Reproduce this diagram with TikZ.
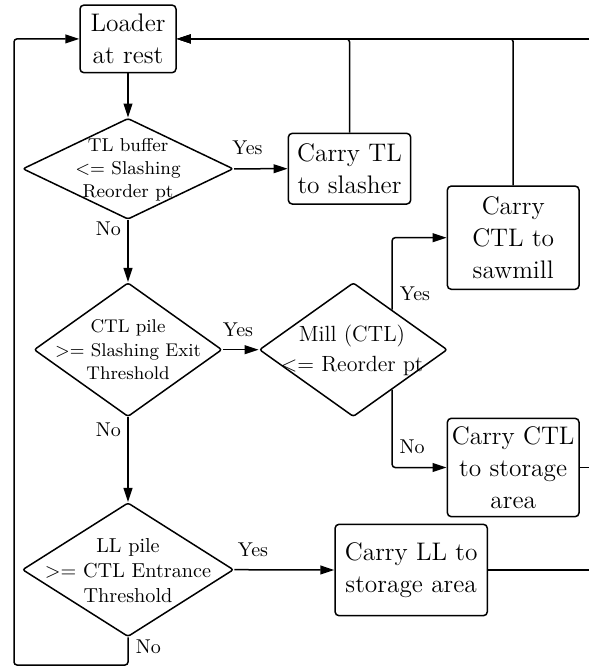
\documentclass[tikz,border=0pt]{standalone}
\usetikzlibrary{arrows.meta,shapes.geometric,calc}
\begin{document}
\begin{tikzpicture}[x=0.5pt,y=-0.5pt,
  line width=0.75pt,
  box/.style={draw,rounded corners=2pt,inner sep=0pt,align=center,
    font=\fontsize{12.7}{16}\selectfont},
  decision/.style={draw,diamond,inner sep=0pt,rounded corners=1.2pt},
  dtext/.style={align=center,inner sep=0pt},
  lab/.style={font=\fontsize{10}{12}\selectfont,anchor=base,inner sep=0pt},
  flow/.style={-{Triangle[length=7pt,width=4.4pt]},rounded corners=1.5pt},
  link/.style={rounded corners=1.5pt}]
\useasboundingbox (0,0) rectangle (589,668);

% process boxes
\node[box,minimum width=48pt,minimum height=33.85pt] (ld) at (128,38.9) {Loader\\at rest};
\node[box,minimum width=61.2pt,minimum height=35.35pt] (tl) at (349.5,168.7) {Carry TL\\to slasher};
\node[box,minimum width=65.85pt,minimum height=51.65pt] (saw) at (513.2,237.7) {Carry\\CTL to\\sawmill};
\node[box,minimum width=65.85pt,minimum height=49.2pt] (stor) at (513.2,467.5) {Carry CTL\\to storage\\area};
\node[box,minimum width=76.15pt,minimum height=45.7pt] (ll) at (411.2,570) {Carry LL to\\storage area};

% decisions
\node[decision,minimum width=105.3pt,minimum height=50.5pt] (d1) at (128,168.8) {};
\node[dtext,font=\fontsize{9.3}{11.5}\selectfont] (d1t) at (128,169.5) {TL buffer\\<= Slashing\\Reorder pt};
\node[decision,minimum width=94pt,minimum height=67pt] (d2) at (128,349.7) {};
\node[dtext,font=\fontsize{9.2}{11.7}\selectfont] (d2t) at (128,350) {CTL pile\\>= Slashing Exit\\Threshold};
\node[decision,minimum width=94pt,minimum height=67pt] (mill) at (353.3,349.7) {};
\node[dtext,font=\fontsize{11}{15}\selectfont] (millt) at (352,350) {Mill (CTL)\\<= Reorder pt};
\node[decision,minimum width=105.65pt,minimum height=67pt] (d4) at (128,569.7) {};
\node[dtext,font=\fontsize{10.1}{12.5}\selectfont] (d4t) at (128,570.5) {LL pile\\>= CTL Entrance\\Threshold};

% free ends and bends
\coordinate (topedge) at (589,38.9);
\coordinate (stedge) at (589,467.5);
\coordinate (lledge) at (589,570);
\coordinate (loopbl) at (14,665);
\coordinate (myes) at ($(mill.north)!0.41!(mill.east)$);
\coordinate (mno) at ($(mill.south)!0.41!(mill.east)$);

% main flow
\draw[flow] (ld.south) -- (d1.north);
\draw[flow] (d1.east) -- (tl.west);
\draw[flow] (d1.south) -- (d2.north);
\draw[flow] (d2.east) -- (mill.west);
\draw[flow] (myes) |- (saw.west);
\draw[flow] (mno) |- (stor.west);
\draw[flow] (d2.south) -- (d4.north);
\draw[flow] (d4.east) -- (ll.west);
\draw[flow] (d4.south) |- (loopbl) |- (ld.west);

% returns to the loader
\draw[flow] (topedge) -- (ld.east);
\draw[flow] (tl.north) |- (ld.east);
\draw[flow] (saw.north) |- (ld.east);
\draw[link] (stor.east) -- (stedge);
\draw[link] (ll.east) -- (lledge);

% branch labels
\node[lab] (y1) at (247.5,155) {Yes};
\node[lab] (n1) at (108.3,235) {No};
\node[lab] (y2) at (238,336) {Yes};
\node[lab] (n2) at (108.3,436.7) {No};
\node[lab] (y3) at (415,300) {Yes};
\node[lab] (n3) at (412,453.3) {No};
\node[lab] (y4) at (253,556.7) {Yes};
\node[lab] (n4) at (148.3,653.3) {No};
\end{tikzpicture}
\end{document}
